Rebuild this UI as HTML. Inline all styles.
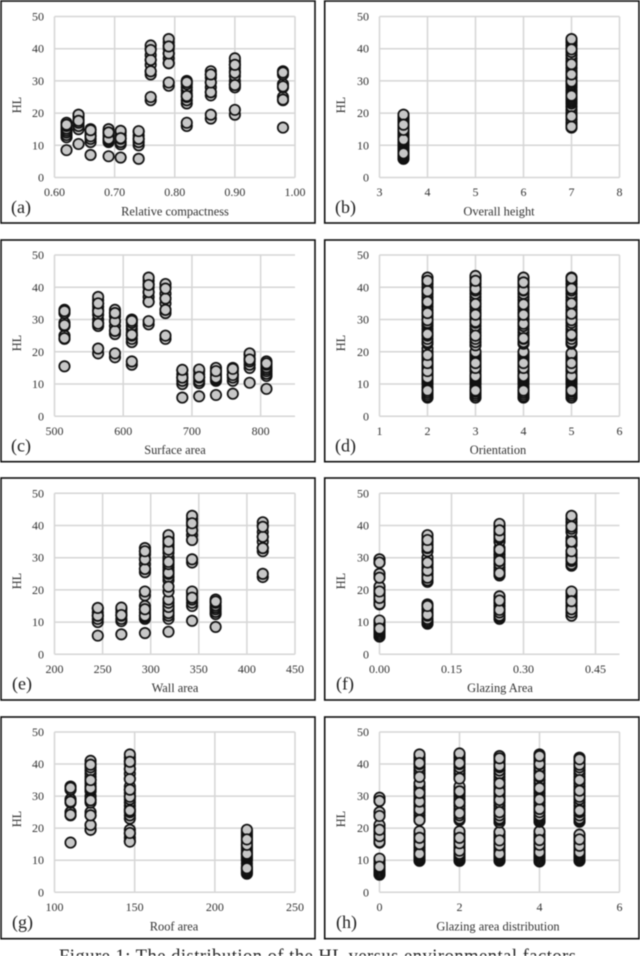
<!DOCTYPE html>
<html lang="en">
<head>
<meta charset="utf-8">
<title>Distribution of HL versus environmental factors</title>
<style>
html,body{margin:0;padding:0;background:#fff;}
body{width:640px;height:956px;overflow:hidden;}
svg{display:block;filter:blur(0.45px);font-family:"Liberation Serif",serif;}
.frame{fill:#fff;stroke:#111;stroke-width:1.6;}
.ytitle,.xtitle{font-size:12.4px;fill:#333;text-anchor:middle;}
.letter{font-size:18px;fill:#222;}
.tick{font-size:12px;fill:#333;}
.caption{font-size:18.5px;fill:#222;}
</style>
</head>
<body>
<svg id="figure" width="640" height="956" viewBox="0 0 640 956" xmlns="http://www.w3.org/2000/svg">
  <g id="panel-a">
    <rect class="frame" x="1" y="1" width="314" height="222"/>
    <text class="letter" x="11" y="213">(a)</text>
    <text class="xtitle" x="175" y="215.5">Relative compactness</text>
    <text class="ytitle" transform="translate(21,105) rotate(-90)">HL</text>
  </g>
  <g id="panel-b">
    <rect class="frame" x="324.7" y="1" width="314.3" height="222"/>
    <text class="letter" x="335" y="213">(b)</text>
    <text class="xtitle" x="499" y="215.5">Overall height</text>
    <text class="ytitle" transform="translate(345,105) rotate(-90)">HL</text>
  </g>
  <g id="panel-c">
    <rect class="frame" x="1" y="240" width="314" height="221.7"/>
    <text class="letter" x="11" y="451.5">(c)</text>
    <text class="xtitle" x="175" y="453.8">Surface area</text>
    <text class="ytitle" transform="translate(21,343) rotate(-90)">HL</text>
  </g>
  <g id="panel-d">
    <rect class="frame" x="324.7" y="240" width="314.3" height="221.7"/>
    <text class="letter" x="335" y="451.5">(d)</text>
    <text class="xtitle" x="498" y="453.8">Orientation</text>
    <text class="ytitle" transform="translate(345,343) rotate(-90)">HL</text>
  </g>
  <g id="panel-e">
    <rect class="frame" x="1" y="478" width="314" height="222"/>
    <text class="letter" x="12" y="689.5">(e)</text>
    <text class="xtitle" x="175" y="692">Wall area</text>
    <text class="ytitle" transform="translate(21,581) rotate(-90)">HL</text>
  </g>
  <g id="panel-f">
    <rect class="frame" x="324.7" y="478" width="314.3" height="222"/>
    <text class="letter" x="336" y="689.5">(f)</text>
    <text class="xtitle" x="500" y="692">Glazing Area</text>
    <text class="ytitle" transform="translate(345,581) rotate(-90)">HL</text>
  </g>
  <g id="panel-g">
    <rect class="frame" x="1" y="717" width="314" height="221.7"/>
    <text class="letter" x="12" y="928">(g)</text>
    <text class="xtitle" x="174" y="930.5">Roof area</text>
    <text class="ytitle" transform="translate(21,819) rotate(-90)">HL</text>
  </g>
  <g id="panel-h">
    <rect class="frame" x="324.7" y="717" width="314.3" height="221.7"/>
    <text class="letter" x="336" y="928">(h)</text>
    <text class="xtitle" x="498" y="930.5">Glazing area distribution</text>
    <text class="ytitle" transform="translate(345,819) rotate(-90)">HL</text>
  </g>
  <text class="caption" x="59" y="962" textLength="517">Figure 1: The distribution of the HL versus environmental factors</text>
</svg>
<script>
// ---- shared y axis ----
const hlTicks = [0, 10, 20, 30, 40, 50];

// ---- HL values by relative compactness class (last values are drawn on top) ----
const hl062 = [8.5, 12.5, 13.2, 14, 14.6, 15.2, 16, 17, 16.4];
const hl064 = [10.4, 15, 16, 17, 18, 19, 19.5, 17.6];
const hl066 = [7, 11, 12, 13, 14, 15, 12.8, 14.7];
const hl069 = [6.6, 11, 11.5, 12, 13, 14, 15, 12, 14];
const hl071 = [6.2, 10.3, 11, 12, 13, 14, 14.5, 12.2];
const hl074 = [5.8, 10, 11, 12, 13, 14.2, 12, 14.4];
const hl076 = [24, 25, 32, 33, 35, 36.5, 38, 40, 41, 33, 36.5, 39.6];
const hl079 = [28.5, 29.5, 35.5, 37, 38.5, 40, 41, 42, 43, 35.5, 38.5, 40.7];
const hl082 = [16, 17, 23, 24, 25, 26, 27, 28, 29, 30, 25.3, 29.6];
const hl086 = [18.3, 19.5, 25.5, 26.5, 28, 29.5, 31, 32, 33, 26.5, 29.5, 32];
const hl090 = [19.5, 21, 28, 29, 30, 31.5, 33, 34, 35, 36, 37, 28.7, 32.5, 35];
const hl098 = [15.5, 24, 25, 28, 29, 32, 33, 24.2, 28.3, 32.6];

// ---- panel (a) ----
const xA = [0.62, 0.64, 0.66, 0.69, 0.71, 0.74, 0.76, 0.79, 0.82, 0.86, 0.90, 0.98];
const valuesA = [hl062, hl064, hl066, hl069, hl071, hl074, hl076, hl079, hl082, hl086, hl090, hl098];
const xDomainA = [0.6, 1.0];
const xTicksA = [0.6, 0.7, 0.8, 0.9, 1.0];
const xTickLabelsA = ['0.60', '0.70', '0.80', '0.90', '1.00'];

// ---- panel (b) ----
const xB = [3.5, 7];
const valuesB = [
  [5.8, 6.2, 6.6, 7, 7.5, 8, 8.5, 9, 9.5, 10, 10.4, 10.8, 11.2, 11.6, 12, 12.4, 12.8, 13.2, 13.6, 14, 14.4, 15, 15.6, 16.2, 17, 17.5, 18, 18.5, 19, 19.5, 7.5, 11.8, 14.8, 16.4],
  [15.5, 16, 16.5, 17, 18, 19, 19.5, 20, 21, 22, 23, 23.5, 24, 24.5, 25, 26, 26.5, 27, 28, 28.5, 29, 29.5, 30, 31, 32, 32.5, 33, 34, 35, 36, 37, 38, 39, 40, 41, 42, 42.5, 43, 15.8, 19, 25.4, 29.8, 32, 35.2, 39.8]
];
const xDomainB = [3, 8];
const xTicksB = [3, 4, 5, 6, 7, 8];
const xTickLabelsB = ['3', '4', '5', '6', '7', '8'];

// ---- panel (c) ----
const xC = [514.5, 563.5, 588, 612.5, 637, 661.5, 686, 710.5, 735, 759.5, 784, 808.5];
const valuesC = [hl098, hl090, hl086, hl082, hl079, hl076, hl074, hl071, hl069, hl066, hl064, hl062];
const xDomainC = [500, 850];
const xTicksC = [500, 600, 700, 800];
const xTickLabelsC = ['500', '600', '700', '800'];

// ---- panel (d) ----
const xD = [2, 3, 4, 5];
const valuesD = [
  [5.8, 6.2, 6.8, 7.4, 8, 9, 10, 10.4, 10.8, 11.2, 11.6, 12, 12.5, 13, 13.5, 14, 14.5, 15, 15.5, 16, 17, 17.5, 18, 18.5, 19, 19.5, 20, 21, 22.5, 23, 24, 25, 26, 27, 28, 28.5, 29, 30, 31, 32, 33, 34, 35, 36, 37, 38, 39, 40, 41, 42, 43, 8, 12, 14, 16.5, 19, 25.5, 29.8, 32, 35.5, 38.8, 42],
  [5.8, 6.4, 7, 7.6, 8.2, 9, 10, 10.5, 11, 11.5, 12, 12.5, 13, 14, 14.5, 15, 15.5, 16, 17, 17.5, 18, 18.5, 19, 19.5, 20, 22, 23, 24, 25, 26, 27, 28, 29, 30, 31, 32, 33, 34, 35, 36, 37, 38, 39, 40, 41, 42, 43, 43.5, 8, 12.5, 15, 16.5, 25, 29.3, 31.5, 34.8, 39.5, 42],
  [5.8, 6.2, 6.8, 7.4, 8, 9, 10, 10.4, 11, 11.5, 12, 12.5, 13, 14, 14.5, 15, 15.5, 16, 17, 17.5, 18, 18.5, 19, 19.5, 20, 22.5, 23, 24, 25, 26, 27, 28, 29, 30, 31, 32, 33, 34, 35, 36, 37, 38, 39, 40, 41, 42, 43, 8, 12.5, 15, 16.5, 24.2, 28.7, 31.5, 34.7, 39.2, 41.5],
  [5.8, 6.4, 7, 7.6, 8.2, 9, 10, 10.5, 11, 11.5, 12, 12.5, 13, 14, 14.5, 15, 15.5, 16, 17, 17.5, 18, 18.5, 19, 19.5, 22.5, 23, 24, 25, 26, 27, 28, 29, 30, 31, 32, 33, 34, 35, 36, 37, 38, 39, 40, 41, 42, 43, 8, 12.5, 15, 16.5, 25.3, 29.8, 31.8, 35, 39.6, 42.8]
];
const xDomainD = [1, 6];
const xTicksD = [1, 2, 3, 4, 5, 6];
const xTickLabelsD = ['1', '2', '3', '4', '5', '6'];

// ---- panel (e) ----
const xE = [245, 269.5, 294, 318.5, 343, 367.5, 416.5];
const valuesE = [hl074, hl071, hl069.concat(hl086), hl066.concat(hl082, hl090), hl064.concat(hl079), hl062, hl076];
const xDomainE = [200, 450];
const xTicksE = [200, 250, 300, 350, 400, 450];
const xTickLabelsE = ['200', '250', '300', '350', '400', '450'];

// ---- panel (f) ----
const xF = [0, 0.1, 0.25, 0.4];
const valuesF = [
  [5.5, 6, 6.5, 7, 7.5, 8, 9, 10, 10.5, 15.5, 16, 17, 18, 19, 20, 21, 24, 25, 28.5, 29.5, 8, 15.7, 17.5, 19.5, 23.8, 28.5],
  [9.5, 10, 10.5, 11, 12, 13, 14, 15, 15.5, 22.5, 23, 24, 25, 26, 27, 28, 29, 30, 32, 33, 34, 35, 36, 37, 12.3, 15, 23.8, 26, 28.5, 33.2, 35.5],
  [11, 11.5, 12, 13, 14, 15, 16, 17, 18, 24.5, 25, 26, 27, 28, 29, 30, 31, 32, 33, 35, 36, 37, 38, 39, 40, 40.5, 13.8, 16.7, 25.2, 29, 32.5, 36.5, 38.5],
  [12, 13, 14, 15, 16, 17, 18, 19, 19.5, 27.5, 28, 29, 30, 31, 32, 34, 35, 36, 38, 39, 40, 41, 42, 43, 14, 16.5, 29.5, 32, 35, 39.7]
];
const xDomainF = [0, 0.5];
const xTicksF = [0, 0.15, 0.3, 0.45];
const xTickLabelsF = ['0.00', '0.15', '0.30', '0.45'];

// ---- panel (g) ----
const xG = [110, 122.5, 147, 220];
const valuesG = [
  hl098,
  [19.5, 21, 24, 25, 28, 29, 30, 31.5, 32, 33, 34, 35, 36, 37, 38, 39, 40, 41, 19.5, 21, 24, 28.7, 32.5, 35, 39.8],
  [16, 17, 18.3, 19.5, 23, 24, 25, 26, 27, 28, 29, 30, 31, 32, 33, 35.5, 37, 38.5, 40, 41, 42, 43, 15.8, 18.5, 25.5, 29.8, 32, 35.3, 38.5, 40.7],
  [5.8, 6.2, 6.6, 7, 7.5, 8, 9, 10, 10.4, 10.8, 11.2, 11.6, 12, 12.4, 13, 13.5, 14, 14.4, 15, 15.6, 16.2, 17, 17.5, 18, 18.5, 19, 19.5, 7.5, 12, 14.8, 16.5]
];
const xDomainG = [100, 250];
const xTicksG = [100, 150, 200, 250];
const xTickLabelsG = ['100', '150', '200', '250'];

// ---- panel (h) ----
const xH = [0, 1, 2, 3, 4, 5];
const valuesH = [
  [5.5, 6, 6.5, 7, 7.5, 8, 9, 10, 10.5, 15.5, 16, 17, 18, 19, 20, 21, 24, 25, 28.5, 29.5, 8, 15.7, 17.5, 19.5, 23.8, 28.5],
  [9.8, 10.2, 10.6, 11, 11.5, 12, 13, 14, 15, 16, 17, 18, 19, 22.5, 23, 24, 25, 26, 27, 28, 29, 30, 31, 32, 33, 34, 36, 37, 38, 39, 40, 41, 42, 43, 12, 15, 17, 22.5, 25.8, 28.3, 31, 36, 40.3],
  [9.8, 10.2, 10.6, 11, 11.5, 12, 13, 14, 15, 16, 17, 18, 19, 22.5, 23, 24, 25, 26, 27, 28, 29, 30, 31, 32, 33, 36, 37, 38, 39, 40, 41, 42, 43, 43.3, 13, 15.3, 17, 24.7, 28, 31.5, 35.5, 40.3],
  [9.8, 10.2, 10.6, 11, 11.5, 12, 13, 14, 15, 16, 17, 18, 18.8, 21.8, 22.5, 23, 24, 25, 26, 27, 28, 29, 30, 31, 32, 33, 34, 35, 36, 37, 38, 39, 40, 41, 42, 42.5, 12, 14.7, 16.2, 25, 28.8, 31.5, 34, 39.5, 41.8],
  [9.6, 10, 10.5, 11, 11.5, 12, 13, 14, 15, 16, 17, 18, 19, 22, 22.5, 23, 23.5, 24, 25, 26, 27, 28, 29, 30, 31, 32, 33, 34, 35, 36, 37, 38, 39, 40, 41, 42, 43, 12.5, 14.8, 16.3, 26, 29, 32.5, 36.3, 40, 42.5],
  [9.8, 10.2, 10.6, 11, 11.5, 12, 13, 14, 15, 16, 17, 18, 22, 22.5, 23, 24, 25, 26, 27, 28, 29, 30, 31, 32, 33, 34, 35, 36, 37, 38, 39, 40, 41, 42, 12.5, 14.5, 16.5, 25.5, 29.8, 31.7, 35, 39.8, 41.5]
];
const xDomainH = [0, 6];
const xTicksH = [0, 2, 4, 6];
const xTickLabelsH = ['0', '2', '4', '6'];

// ---- layout ----
const SVGNS = 'http://www.w3.org/2000/svg';
const columnLeft = [54.5, 379.5];
const columnRight = [295, 619.5];
const rowTop = [16.5, 255, 493.3, 732];
const rowBottom = [177.5, 416.3, 654.3, 892.3];

function make(tag, attrs, parent) {
  const el = document.createElementNS(SVGNS, tag);
  for (const k in attrs) el.setAttribute(k, attrs[k]);
  parent.appendChild(el);
  return el;
}

function drawPanel(id, col, row, xs, values, xDomain, xTicks, xTickLabels) {
  const root = document.getElementById(id);
  const left = columnLeft[col], right = columnRight[col];
  const top = rowTop[row], bottom = rowBottom[row];
  const xScale = v => left + (v - xDomain[0]) / (xDomain[1] - xDomain[0]) * (right - left);
  const yScale = v => bottom - (v - hlTicks[0]) / (hlTicks[hlTicks.length - 1] - hlTicks[0]) * (bottom - top);

  hlTicks.forEach(t => {
    const y = yScale(t);
    const grid = make('line', { x1: left, x2: right, y1: y, y2: y, stroke: '#d6d6d6', 'stroke-width': 1.5 }, root);
    
    
    const label = make('text', { class: 'tick', x: left - 10.5, y: y + 4, 'text-anchor': 'end' }, root);
    
    
    label.textContent = String(t);
  });

  xTicks.forEach((t, i) => {
    const x = xScale(t);
    const grid = make('line', { x1: x, x2: x, y1: top, y2: bottom, stroke: '#d6d6d6', 'stroke-width': 1.5 }, root);
    
    
    const label = make('text', { class: 'tick', x: x, y: bottom + 18.5, 'text-anchor': 'middle' }, root);
    
    
    label.textContent = xTickLabels[i];
  });

  xs.forEach((xv, i) => {
    values[i].forEach(hl => {
      const dot = make('circle', { cx: xScale(xv), cy: yScale(hl), r: 5.2, fill: '#c8c8c8', stroke: '#111', 'stroke-width': 1.7 }, root);
      
      
    });
  });
}

drawPanel('panel-a', 0, 0, xA, valuesA, xDomainA, xTicksA, xTickLabelsA);
drawPanel('panel-b', 1, 0, xB, valuesB, xDomainB, xTicksB, xTickLabelsB);
drawPanel('panel-c', 0, 1, xC, valuesC, xDomainC, xTicksC, xTickLabelsC);
drawPanel('panel-d', 1, 1, xD, valuesD, xDomainD, xTicksD, xTickLabelsD);
drawPanel('panel-e', 0, 2, xE, valuesE, xDomainE, xTicksE, xTickLabelsE);
drawPanel('panel-f', 1, 2, xF, valuesF, xDomainF, xTicksF, xTickLabelsF);
drawPanel('panel-g', 0, 3, xG, valuesG, xDomainG, xTicksG, xTickLabelsG);
drawPanel('panel-h', 1, 3, xH, valuesH, xDomainH, xTicksH, xTickLabelsH);
</script>
</body>
</html>
